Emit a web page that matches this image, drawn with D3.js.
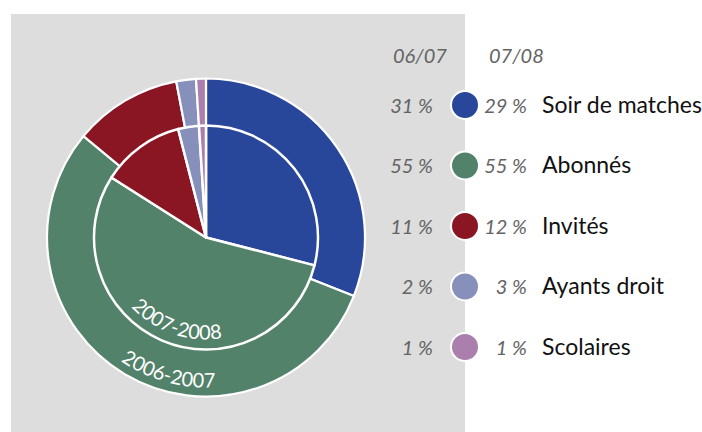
<!DOCTYPE html>
<html>
<head>
<meta charset="utf-8">
<script src="https://cdn.jsdelivr.net/npm/d3@7"></script>
<style>
  html, body { margin: 0; padding: 0; background: #fff; }
  svg { display: block; }
</style>
</head>
<body>
<svg id="chart" width="702" height="432"></svg>
<script>
// ---- data ----
const categories = ["Soir de matches", "Abonnés", "Invités", "Ayants droit", "Scolaires"];
const values0607 = [31, 55, 11, 2, 1];
const values0708 = [29, 55, 12, 3, 1];
const seasonHeaders = ["06/07", "07/08"];
const ringLabels = ["2006-2007", "2007-2008"];
const colors = ["#28479b", "#53826b", "#891622", "#8790bb", "#ab7fad"];

// ---- layout ----
const W = 702, H = 432;
const cx = 206, cy = 237.5;
const rOuter = 159, rInner = 112;
const svg = d3.select("#chart");

svg.append("rect").attr("x", 11).attr("y", 14).attr("width", 454).attr("height", H - 14)
  .attr("fill", "#dcdddc");

const color = d3.scaleOrdinal().domain(categories).range(colors);
const pie = d3.pie().sort(null).value(d => d.v);

const g = svg.append("g").attr("transform", `translate(${cx},${cy})`);

const outerData = pie(categories.map((c, i) => ({c, v: values0607[i]})));
const innerData = pie(categories.map((c, i) => ({c, v: values0708[i]})));

g.selectAll("path.outer").data(outerData).join("path")
  .attr("class", "outer")
  .attr("d", d3.arc().innerRadius(0).outerRadius(rOuter))
  .attr("fill", d => color(d.data.c))
  .attr("stroke", "#fff").attr("stroke-width", 2.2).attr("stroke-linejoin", "round");

g.selectAll("path.inner").data(innerData).join("path")
  .attr("class", "inner")
  .attr("d", d3.arc().innerRadius(0).outerRadius(rInner))
  .attr("fill", d => color(d.data.c))
  .attr("stroke", "#fff").attr("stroke-width", 2.5).attr("stroke-linejoin", "round");

// curved ring labels along the bottom
function bottomArc(R, centerDeg, spanDeg) {
  const a1 = (centerDeg + spanDeg) * Math.PI / 180;
  const a2 = (centerDeg - spanDeg) * Math.PI / 180;
  const x1 = R * Math.sin(a1), y1 = -R * Math.cos(a1);
  const x2 = R * Math.sin(a2), y2 = -R * Math.cos(a2);
  return `M${x1},${y1} A${R},${R} 0 0 0 ${x2},${y2}`;
}
const labelSpecs = [
  {id: "arcOuter", R: 150, ang: 195.5, text: ringLabels[0]},
  {id: "arcInner", R: 102, ang: 199, text: ringLabels[1]}
];
const defs = svg.append("defs");
labelSpecs.forEach(s => {
  defs.append("path").attr("id", s.id).attr("d", bottomArc(s.R, s.ang, 70))
    .attr("transform", `translate(${cx},${cy})`);
  svg.append("text")
    .attr("font-family", "Lato, 'Noto Sans', sans-serif")
    .attr("font-size", 20).attr("fill", "#fff")
    .append("textPath").attr("href", "#" + s.id)
    .attr("startOffset", "50%").attr("text-anchor", "middle")
    .text(s.text);
});

// ---- legend ----
const rowY = i => 105 + i * 60.5;
const col1Right = 433, col2Right = 527, dotX = 465, labelX = 542;
const pctFont = 20;

svg.append("text").attr("x", 393).attr("y", 63)
  .attr("font-family", "Lato, sans-serif").attr("font-style", "italic")
  .attr("font-size", pctFont).attr("fill", "#646464").text(seasonHeaders[0]);
svg.append("text").attr("x", 489).attr("y", 63)
  .attr("font-family", "Lato, sans-serif").attr("font-style", "italic")
  .attr("font-size", pctFont).attr("fill", "#646464").text(seasonHeaders[1]);

const rows = svg.append("g").selectAll("g").data(categories).join("g");
rows.append("text").attr("x", col1Right).attr("y", (d, i) => rowY(i) + 7.5)
  .attr("text-anchor", "end")
  .attr("font-family", "Lato, sans-serif").attr("font-style", "italic")
  .attr("font-size", pctFont).attr("fill", "#646464")
  .text((d, i) => values0607[i] + " %");
rows.append("circle").attr("cx", dotX).attr("cy", (d, i) => rowY(i)).attr("r", 14)
  .attr("fill", d => color(d)).attr("stroke", "#fff").attr("stroke-width", 2);
rows.append("text").attr("x", col2Right).attr("y", (d, i) => rowY(i) + 7.5)
  .attr("text-anchor", "end")
  .attr("font-family", "Lato, sans-serif").attr("font-style", "italic")
  .attr("font-size", pctFont).attr("fill", "#646464")
  .text((d, i) => values0708[i] + " %");
rows.append("text").attr("x", labelX).attr("y", (d, i) => rowY(i) + 7.5)
  .attr("font-family", "Lato, sans-serif")
  .attr("font-size", 23).attr("fill", "#111")
  .text(d => d);
</script>
</body>
</html>
